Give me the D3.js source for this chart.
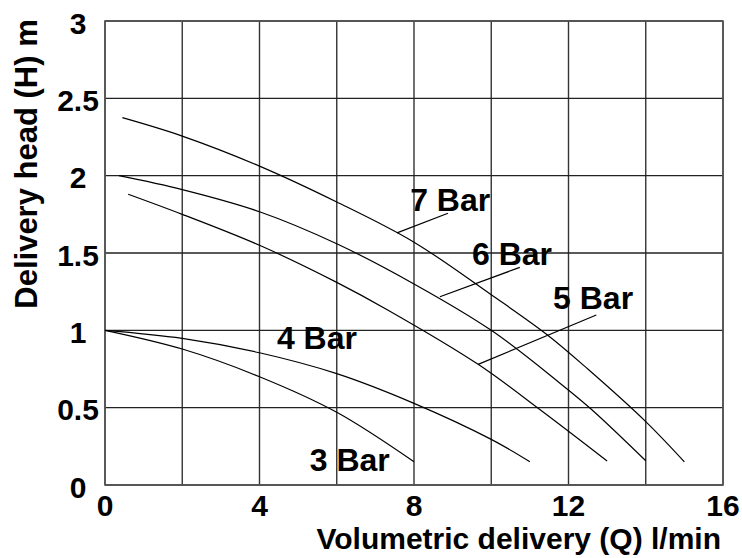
<!DOCTYPE html>
<html>
<head>
<meta charset="utf-8">
<script src="https://cdn.jsdelivr.net/npm/d3@7"></script>
<style>
  body { margin: 0; background: #fff; }
  text { font-family: "Liberation Sans", Arial, sans-serif; font-weight: bold; fill: #000; }
</style>
</head>
<body>
<svg id="chart" width="742" height="558"></svg>
<script>
// pump curves (Q in l/min, H in m)
const q3 = [0, 2, 4, 6, 8];
const h3 = [1.0, 0.879, 0.70, 0.47, 0.15];
const q4 = [0, 2, 4, 6, 8, 10, 11];
const h4 = [1.0, 0.948, 0.855, 0.72, 0.528, 0.295, 0.15];
const q5 = [0.6, 2, 4, 6, 7.33, 9.66, 11.3, 13];
const h5 = [1.88, 1.75, 1.55, 1.31, 1.13, 0.78, 0.48, 0.155];
const q6 = [0.36, 2, 4, 6, 8, 10, 11.77, 12.59, 14];
const h6 = [2.0, 1.91, 1.767, 1.56, 1.30, 1.0, 0.66, 0.49, 0.157];
const q7 = [0.45, 2, 4, 6, 8, 10, 11.43, 12.5, 14, 15];
const h7 = [2.375, 2.256, 2.062, 1.83, 1.57, 1.23, 0.975, 0.75, 0.41, 0.15];

const seriesNames = ["3 Bar", "4 Bar", "5 Bar", "6 Bar", "7 Bar"];
// label anchor (Q, H) and leader line (from curve point to label)
const labelQ = [5.3, 4.45, 11.6, 9.5, 7.9];
const labelH = [0.09, 0.88, 1.135, 1.42, 1.77];
const leaderFromQ = [null, null, 9.66, 8.67, 7.56];
const leaderFromH = [null, null, 0.78, 1.217, 1.63];
const leaderToQ = [null, null, 12.72, 10.74, 8.88];
const leaderToH = [null, null, 1.099, 1.407, 1.757];

const xTickLabels = [0, 4, 8, 12, 16];
const yTickLabels = [0, 0.5, 1, 1.5, 2, 2.5, 3];

const svg = d3.select("#chart");
const width = +svg.attr("width");
const height = +svg.attr("height");
const margin = { top: 21, right: 19, bottom: 73, left: 105 };
const w = width - margin.left - margin.right;
const h = height - margin.top - margin.bottom;

const x = d3.scaleLinear().domain([0, 16]).range([0, w]);
const y = d3.scaleLinear().domain([0, 3]).range([h, 0]);

const g = svg.append("g")
    .attr("transform", `translate(${margin.left},${margin.top})`);

// grid
g.append("g").selectAll("line.v")
    .data(d3.range(0, 17, 2))
    .join("line")
    .attr("x1", d => x(d)).attr("x2", d => x(d))
    .attr("y1", 0).attr("y2", h)
    .attr("stroke", "#333")
    .attr("stroke-width", 1.4);

g.append("g").selectAll("line.h")
    .data(d3.range(0, 3.01, 0.5))
    .join("line")
    .attr("x1", 0).attr("x2", w)
    .attr("y1", d => y(d)).attr("y2", d => y(d))
    .attr("stroke", "#222")
    .attr("stroke-width", 1.4);

g.append("rect")
    .attr("width", w).attr("height", h)
    .attr("fill", "none")
    .attr("stroke", "#555")
    .attr("stroke-width", 1.6);

// tick labels
g.selectAll("text.xt")
    .data(xTickLabels)
    .join("text")
    .attr("class", "xt")
    .attr("x", d => x(d))
    .attr("y", h + 31)
    .attr("text-anchor", "middle")
    .attr("font-size", 30)
    .text(d => d);

g.selectAll("text.yt")
    .data(yTickLabels)
    .join("text")
    .attr("class", "yt")
    .attr("x", -27)
    .attr("y", d => y(d) + 12.5)
    .attr("text-anchor", "middle")
    .attr("font-size", 30)
    .text(d => d);

// axis titles
svg.append("text")
    .attr("x", 721)
    .attr("y", 549)
    .attr("text-anchor", "end")
    .attr("font-size", 30)
    .text("Volumetric delivery (Q) l/min");

svg.append("text")
    .attr("transform", "translate(37,164) rotate(-90)")
    .attr("text-anchor", "middle")
    .attr("font-size", 31)
    .text("Delivery head (H) m");

// curves
const qs = [q3, q4, q5, q6, q7];
const hs = [h3, h4, h5, h6, h7];
const line = d3.line()
    .x(d => x(d[0]))
    .y(d => y(d[1]))
    .curve(d3.curveCatmullRom.alpha(0.5));

qs.forEach((qq, i) => {
    g.append("path")
        .datum(qq.map((v, j) => [v, hs[i][j]]))
        .attr("fill", "none")
        .attr("stroke", "#000")
        .attr("stroke-width", 1.2)
        .attr("d", line);
});

// leader lines
seriesNames.forEach((n, i) => {
    if (leaderFromQ[i] === null) return;
    g.append("line")
        .attr("x1", x(leaderFromQ[i])).attr("y1", y(leaderFromH[i]))
        .attr("x2", x(leaderToQ[i])).attr("y2", y(leaderToH[i]))
        .attr("stroke", "#000")
        .attr("stroke-width", 1.2);
});

// series labels
g.selectAll("text.lab")
    .data(seriesNames)
    .join("text")
    .attr("class", "lab")
    .attr("x", (d, i) => x(labelQ[i]))
    .attr("y", (d, i) => y(labelH[i]))
    .attr("font-size", 32)
    .text(d => d);
</script>
</body>
</html>
